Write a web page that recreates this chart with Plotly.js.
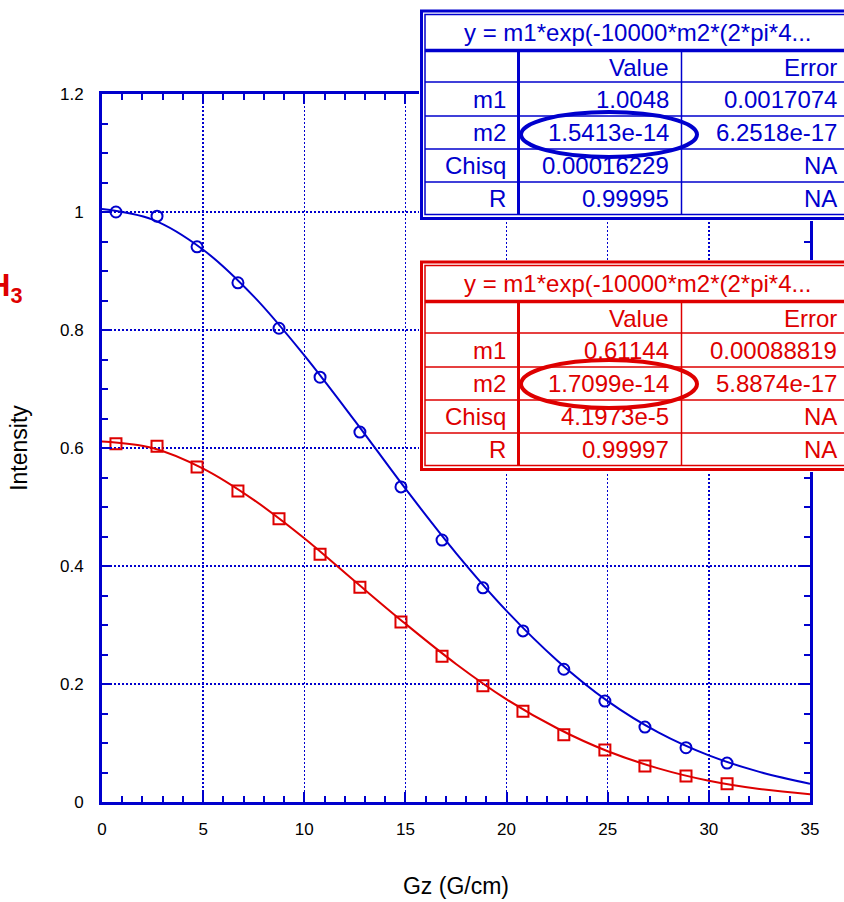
<!DOCTYPE html>
<html>
<head>
<meta charset="utf-8">
<script src="https://cdn.plot.ly/plotly-3.0.1.min.js"></script>
<style>html,body{margin:0;padding:0;background:#fff;}#chart{width:844px;height:902px;}</style>
</head>
<body>
<div id="chart"></div>
<script>
// ---------- data ----------
const gz = [0.69, 2.72, 4.70, 6.72, 8.75, 10.78, 12.75, 14.78, 16.81, 18.83, 20.81, 22.83, 24.86, 26.84, 28.87, 30.90];
const intensityBlue = [1.000, 0.993, 0.941, 0.880, 0.803, 0.720, 0.627, 0.534, 0.444, 0.363, 0.290, 0.225, 0.171, 0.127, 0.092, 0.066];
const intensityRed  = [0.607, 0.603, 0.568, 0.527, 0.480, 0.420, 0.364, 0.305, 0.247, 0.197, 0.154, 0.114, 0.088, 0.061, 0.044, 0.031];

const fitGz   = [0, 2.5, 5, 7.5, 10, 12.5, 15, 17.5, 20, 22.5, 25, 27.5, 30, 32.5, 35];
const fitBlue = [1.005, 0.987, 0.936, 0.857, 0.757, 0.646, 0.531, 0.422, 0.324, 0.240, 0.171, 0.118, 0.079, 0.051, 0.031];
const fitRed  = [0.611, 0.600, 0.565, 0.512, 0.447, 0.374, 0.302, 0.234, 0.174, 0.125, 0.086, 0.057, 0.036, 0.022, 0.013];

const fitTitle = "y = m1*exp(-10000*m2*(2*pi*4...";
const tableHeader = ["", "Value", "Error"];
const rowNames = ["m1", "m2", "Chisq", "R"];
const blueValues = ["1.0048", "1.5413e-14", "0.00016229", "0.99995"];
const blueErrors = ["0.0017074", "6.2518e-17", "NA", "NA"];
const redValues  = ["0.61144", "1.7099e-14", "4.1973e-5", "0.99997"];
const redErrors  = ["0.00088819", "5.8874e-17", "NA", "NA"];
const sideLabel = "H<sub>3</sub>";

// ---------- styling ----------
const BLUE = "rgb(0,0,205)";
const RED = "rgb(222,0,0)";
const FONT = "Liberation Sans, Arial, sans-serif";

// plot-area geometry (pixels) used to place paper-referenced decorations
const L = 102, T = 94, W = 708, H = 708;
const px = x => (x - L) / W;
const py = y => (T + H - y) / H;

const traces = [
  {x: fitGz, y: fitBlue, mode: "lines", line: {color: BLUE, width: 2, shape: "spline"}, hoverinfo: "skip"},
  {x: fitGz, y: fitRed, mode: "lines", line: {color: RED, width: 2, shape: "spline"}, hoverinfo: "skip"},
  {x: gz, y: intensityBlue, mode: "markers", marker: {symbol: "circle-open", size: 11, color: BLUE, line: {width: 2, color: BLUE}}},
  {x: gz, y: intensityRed, mode: "markers", marker: {symbol: "square-open", size: 11, color: RED, line: {width: 2, color: RED}}}
];

const shapes = [];
const annotations = [];

function hline(y, x0, x1, color, w) {
  shapes.push({type: "line", xref: "paper", yref: "paper", x0: px(x0), x1: px(x1), y0: py(y), y1: py(y), line: {color: color, width: w}, layer: "above"});
}
function vline(x, y0, y1, color, w) {
  shapes.push({type: "line", xref: "paper", yref: "paper", x0: px(x), x1: px(x), y0: py(y0), y1: py(y1), line: {color: color, width: w}, layer: "above"});
}
function text(t, x, y, anchor, color) {
  annotations.push({text: t, xref: "paper", yref: "paper", x: px(x), y: py(y), xanchor: anchor, yanchor: "middle",
    showarrow: false, font: {family: FONT, size: 24, color: color}});
}

function drawTable(off, color, values, errors, ellipse) {
  const R = 870;
  shapes.push({type: "rect", xref: "paper", yref: "paper", x0: px(419), x1: px(R), y0: py(9 + off), y1: py(221 + off),
    fillcolor: "white", line: {width: 0}, layer: "above"});
  // outer double border
  shapes.push({type: "rect", xref: "paper", yref: "paper", x0: px(421.5), x1: px(R), y0: py(11 + off), y1: py(218.5 + off),
    fillcolor: "rgba(0,0,0,0)", line: {color: color, width: 3}, layer: "above"});
  shapes.push({type: "rect", xref: "paper", yref: "paper", x0: px(425), x1: px(R), y0: py(14.5 + off), y1: py(214.5 + off),
    fillcolor: "rgba(0,0,0,0)", line: {color: color, width: 1.5}, layer: "above"});
  // title separator
  hline(50.5 + off, 425, R, color, 3.5);
  // row separators
  [82, 116, 149, 182].forEach(y => hline(y + off, 425, R, color, 1.5));
  // column separators
  vline(518.5, 52 + off, 214 + off, color, 3);
  vline(681.5, 52 + off, 214 + off, color, 1.5);

  text(fitTitle, 638, 32 + off, "center", color);
  text(tableHeader[1], 671, 67 + off, "right", color);
  text(tableHeader[2], 839, 67 + off, "right", color);
  const centers = [99, 132.5, 165.5, 198];
  rowNames.forEach((n, i) => {
    text(n, 508, centers[i] + off, "right", color);
    text(values[i], 671, centers[i] + off, "right", color);
    text(errors[i], 839, centers[i] + off, "right", color);
  });
  shapes.push({type: "circle", xref: "paper", yref: "paper", x0: px(ellipse[0]), x1: px(ellipse[1]), y0: py(ellipse[2]), y1: py(ellipse[3]),
    fillcolor: "rgba(0,0,0,0)", line: {color: color, width: 4}, layer: "above"});
}

drawTable(0, BLUE, blueValues, blueErrors, [521, 697, 112, 157]);
drawTable(251, RED, redValues, redErrors, [521, 697, 360, 408]);

annotations.push({text: sideLabel, xref: "paper", yref: "paper", x: px(24), y: py(288), xanchor: "right", yanchor: "middle",
  showarrow: false, font: {family: FONT, size: 31, color: RED, weight: "bold"}});

const axisCommon = {
  showline: true, linecolor: BLUE, linewidth: 3, mirror: "ticks",
  ticks: "inside", ticklen: 10, tickwidth: 2, tickcolor: BLUE,
  showgrid: true, gridcolor: BLUE, gridwidth: 1.5, griddash: "2px,2px",
  zeroline: false, tickfont: {family: FONT, size: 17, color: "black"},
  fixedrange: true
};

const layout = {
  width: 844, height: 902,
  margin: {l: L, r: 844 - L - W, t: T, b: 902 - T - H, pad: 0},
  paper_bgcolor: "white", plot_bgcolor: "white",
  showlegend: false,
  xaxis: Object.assign({}, axisCommon, {
    range: [0, 35], dtick: 5, tick0: 0, ticklabelstandoff: 10,
    minor: {dtick: 1, ticks: "inside", ticklen: 6, tickwidth: 2, tickcolor: BLUE, showgrid: false},
    title: {text: "Gz (G/cm)", font: {family: FONT, size: 23, color: "black"}, standoff: 40}
  }),
  yaxis: Object.assign({}, axisCommon, {
    range: [0, 1.2], dtick: 0.2, tick0: 0, ticklabelstandoff: 12,
    minor: {dtick: 0.05, ticks: "inside", ticklen: 6, tickwidth: 2, tickcolor: BLUE, showgrid: false},
    title: {text: "Intensity", font: {family: FONT, size: 23, color: "black"}, standoff: 26}
  }),
  shapes: shapes,
  annotations: annotations
};

Plotly.newPlot("chart", traces, layout, {displayModeBar: false, staticPlot: true});
</script>
</body>
</html>
